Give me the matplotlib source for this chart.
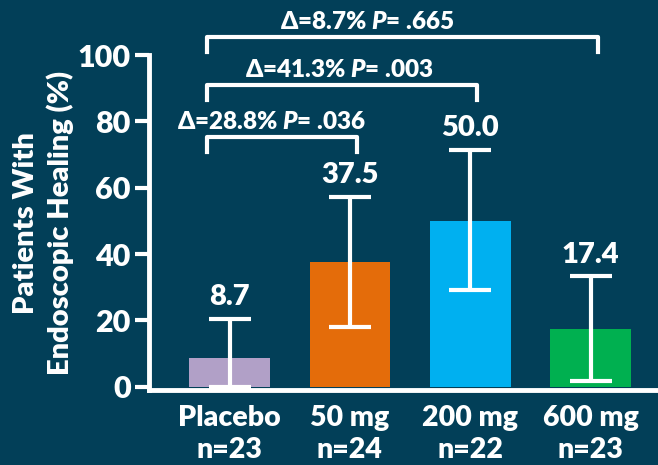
import matplotlib.pyplot as plt

plt.rcParams['font.family'] = ['Lato', 'DejaVu Sans']
plt.rcParams['font.weight'] = 'heavy'
plt.rcParams['mathtext.fontset'] = 'custom'
plt.rcParams['mathtext.it'] = 'Lato:italic:heavy'
plt.rcParams['mathtext.rm'] = 'Lato:heavy'

groups = ['Placebo\nn=23', '50 mg\nn=24', '200 mg\nn=22', '600 mg\nn=23']
rates = [8.7, 37.5, 50.0, 17.4]
ci_low = [0.0, 18.0, 29.2, 1.8]
ci_high = [20.5, 57.3, 71.5, 33.3]
colors = ['#b1a0c7', '#e46c0a', '#00b0f0', '#00b050']

# comparisons vs placebo: (other group index, label)
comps = [(1, '\u0394=28.8% $P$= .036'),
         (2, '\u0394=41.3% $P$= .003'),
         (3, '\u0394=8.7% $P$= .665')]

bg = '#023f58'
W = 'heavy'
fig = plt.figure(figsize=(6.58, 4.65), dpi=100, facecolor=bg)
ax = fig.add_axes([0.2264, 0.1613, 0.7736, 0.7204])
ax.set_facecolor(bg)

x = list(range(len(rates)))
ax.bar(x, rates, width=0.67, color=colors, zorder=2)
yerr = [[r - lo for r, lo in zip(rates, ci_low)], [hi - r for r, hi in zip(rates, ci_high)]]
ax.errorbar(x, rates, yerr=yerr, fmt='none', ecolor='white', elinewidth=3,
            capsize=15, capthick=3, zorder=3)

for xi, r, hi in zip(x, rates, ci_high):
    ax.text(xi, hi + 2.5, f'{r:.1f}', ha='center', va='bottom', color='white',
            fontsize=21, fontweight=W)

# brackets
levels = [(70.8, 75.3, 79.8), (86.4, 91.0, 95.5), (100.9, 105.4, 110.0)]
text_x = [0.35, 0.91, 1.14]
for (j, lab), (lo, top, ty), tx in zip(comps, levels, text_x):
    ax.plot([-0.19, -0.19, j + 0.06, j + 0.06], [lo, top, top, lo], color='white',
            lw=3, clip_on=False, solid_joinstyle='round')
    ax.text(tx, ty, lab, ha='center', va='center', color='white', fontsize=17.5,
            fontweight=W, clip_on=False)

ax.set_xlim(-0.67, 3.56)
ax.set_ylim(-1, 100)
ax.set_yticks([0, 20, 40, 60, 80, 100])
ax.set_xticks(x)
ax.set_xticklabels(groups, fontsize=20.5, fontweight=W, color='white', linespacing=1.25)
ax.tick_params(axis='x', length=0, pad=11)
ax.tick_params(axis='y', length=10, width=3, color='white', labelcolor='white',
               labelsize=22, pad=3)
for t in ax.get_yticklabels():
    t.set_fontweight(W)

for s in ['top', 'right']:
    ax.spines[s].set_visible(False)
for s in ['left', 'bottom']:
    ax.spines[s].set_color('white')
    ax.spines[s].set_linewidth(3.5)

fig.text(0.066, 0.52, 'Patients With\nEndoscopic Healing (%)', rotation=90,
         ha='center', va='center', color='white', fontsize=21, fontweight=W,
         linespacing=1.3)

fig.savefig('out.png', dpi=100, facecolor=bg)
